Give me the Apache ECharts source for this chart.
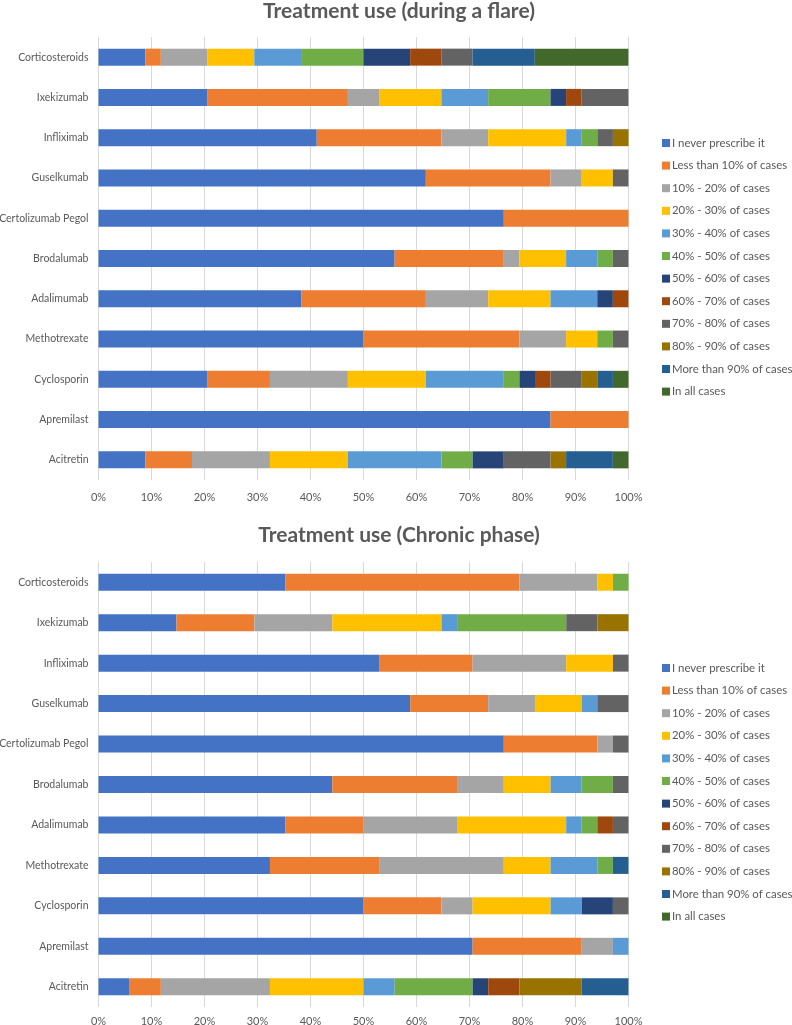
<!DOCTYPE html>
<html><head><meta charset="utf-8">
<script src="https://cdn.jsdelivr.net/npm/echarts@6/dist/echarts.min.js"></script>
<style>html,body{margin:0;padding:0;background:#fff}#c{width:792px;height:1025px}</style>
</head><body><div id="c"></div>
<script>
const categories = ["Corticosteroids","Ixekizumab","Infliximab","Guselkumab","Certolizumab Pegol","Brodalumab","Adalimumab","Methotrexate","Cyclosporin","Apremilast","Acitretin"];
const seriesNames = ["I never prescribe it","Less than 10% of cases","10% - 20% of cases","20% - 30% of cases","30% - 40% of cases","40% - 50% of cases","50% - 60% of cases","60% - 70% of cases","70% - 80% of cases","80% - 90% of cases","More than 90% of cases","In all cases"];
const tickLabels = ["0%","10%","20%","30%","40%","50%","60%","70%","80%","90%","100%"];
const titles = ["Treatment use (during a flare)","Treatment use (Chronic phase)"];

// Flare (percent of respondents)
const flareNever  = [8.82,20.59,41.18,61.76,76.47,55.88,38.24,50.00,20.59,85.29,8.82];
const flareLt10   = [2.94,26.47,23.53,23.53,23.53,20.59,23.53,29.41,11.76,14.71,8.82];
const flare10_20  = [8.82,5.88,8.82,5.88,0,2.94,11.76,8.82,14.71,0,14.71];
const flare20_30  = [8.82,11.76,14.71,5.88,0,8.82,11.76,5.88,14.71,0,14.71];
const flare30_40  = [8.82,8.82,2.94,0,0,5.88,8.82,0,14.71,0,17.65];
const flare40_50  = [11.76,11.76,2.94,0,0,2.94,0,2.94,2.94,0,5.88];
const flare50_60  = [8.82,2.94,0,0,0,0,2.94,0,2.94,0,5.88];
const flare60_70  = [5.88,2.94,0,0,0,0,2.94,0,2.94,0,0];
const flare70_80  = [5.88,8.82,2.94,2.94,0,2.94,0,2.94,5.88,0,8.82];
const flare80_90  = [0,0,2.94,0,0,0,0,0,2.94,0,2.94];
const flareGt90   = [11.76,0,0,0,0,0,0,0,2.94,0,8.82];
const flareAll    = [17.65,0,0,0,0,0,0,0,2.94,0,2.94];

// Chronic phase
const chronNever  = [35.29,14.71,52.94,58.82,76.47,44.12,35.29,32.35,50.00,70.59,5.88];
const chronLt10   = [44.12,14.71,17.65,14.71,17.65,23.53,14.71,20.59,14.71,20.59,5.88];
const chron10_20  = [14.71,14.71,17.65,8.82,2.94,8.82,17.65,23.53,5.88,5.88,20.59];
const chron20_30  = [2.94,20.59,8.82,8.82,0,8.82,20.59,8.82,14.71,0,17.65];
const chron30_40  = [0,2.94,0,2.94,0,5.88,2.94,8.82,5.88,2.94,5.88];
const chron40_50  = [2.94,20.59,0,0,0,5.88,2.94,2.94,0,0,14.71];
const chron50_60  = [0,0,0,0,0,0,0,0,5.88,0,2.94];
const chron60_70  = [0,0,0,0,0,0,2.94,0,0,0,5.88];
const chron70_80  = [0,5.88,2.94,5.88,2.94,2.94,2.94,0,2.94,0,0];
const chron80_90  = [0,5.88,0,0,0,0,0,0,0,0,11.76];
const chronGt90   = [0,0,0,0,0,0,0,2.94,0,0,8.82];
const chronAll    = [0,0,0,0,0,0,0,0,0,0,0];

const flareData = [flareNever,flareLt10,flare10_20,flare20_30,flare30_40,flare40_50,flare50_60,flare60_70,flare70_80,flare80_90,flareGt90,flareAll];
const chronData = [chronNever,chronLt10,chron10_20,chron20_30,chron30_40,chron40_50,chron50_60,chron60_70,chron70_80,chron80_90,chronGt90,chronAll];

const colors = ["#4472C4","#ED7D31","#A5A5A5","#FFC000","#5B9BD5","#70AD47","#264478","#9E480E","#636363","#997300","#255E91","#43682B"];
const FONT = "Lato";
const TXT = "#595959";

const grids = [
  {left: 98.5, right: 163.5, top: 37, height: 443, outerBoundsMode:'none', containLabel:false},
  {left: 98.5, right: 163.5, top: 562, height: 445, outerBoundsMode:'none', containLabel:false}
];

function xAxis(i, margin){
  return {type:'value', gridIndex:i, min:0, max:100, interval:10,
    axisLine:{show:false}, axisTick:{show:false},
    splitLine:{lineStyle:{color:'#D9D9D9', width:1}},
    axisLabel:{color:TXT, fontFamily:FONT, fontSize:11, margin:margin,
      formatter:(v)=>tickLabels[Math.round(v/10)]}};
}
function yAxis(i){
  return {type:'category', gridIndex:i, data:categories, inverse:true,
    axisLine:{show:false}, axisTick:{show:false}, splitLine:{show:false},
    axisLabel:{color:TXT, fontFamily:FONT, fontSize:10.5, margin:10}};
}
const series = [];
[flareData, chronData].forEach((set, gi)=>{
  set.forEach((arr, si)=>{
    series.push({name:seriesNames[si], type:'bar', stack:'s'+gi, xAxisIndex:gi, yAxisIndex:gi,
      barWidth:17, data:arr, itemStyle:{color:colors[si]}, emphasis:{disabled:true}, animation:false});
  });
});
function legend(top){
  return {orient:'vertical', left:657, top:top, itemWidth:8, itemHeight:8, itemGap:8.6,
    icon:'rect', selectedMode:false, data:seriesNames,
    textStyle:{color:TXT, fontFamily:FONT, fontSize:11.4, lineHeight:14, padding:[0,0,0,-3]}};
}
const chart = echarts.init(document.getElementById('c'), null, {renderer:'canvas'});
chart.setOption({
  animation:false,
  color:colors,
  title:[
    {text:titles[0], left:394, top:-4, textAlign:'center', textStyle:{fontFamily:FONT, fontSize:21, fontWeight:'bold', color:TXT}},
    {text:titles[1], left:394, top:520, textAlign:'center', textStyle:{fontFamily:FONT, fontSize:21, fontWeight:'bold', color:TXT}}
  ],
  grid:grids,
  xAxis:[xAxis(0, 12), xAxis(1, 9)],
  yAxis:[yAxis(0), yAxis(1)],
  legend:[legend(131), legend(656)],
  series:series
});
</script></body></html>
